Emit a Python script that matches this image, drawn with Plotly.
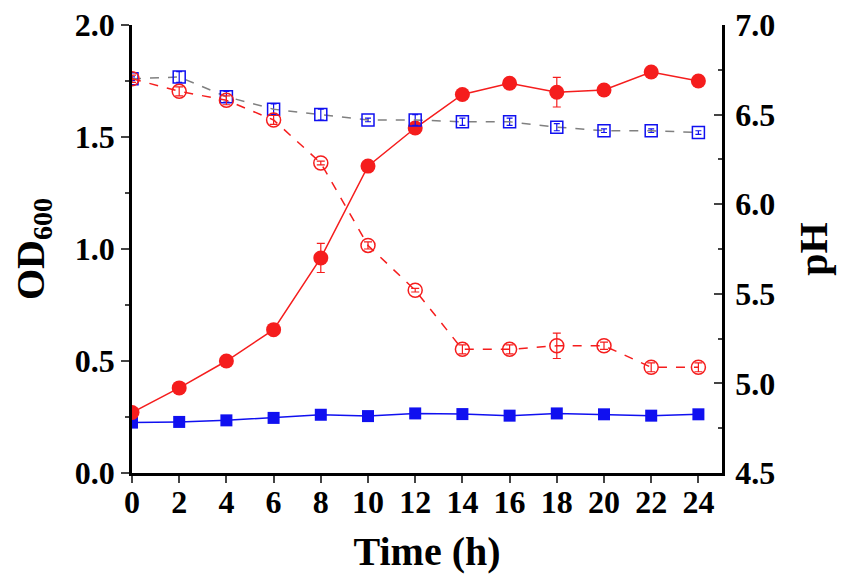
import plotly.graph_objects as go

# sampling times (h)
time_h = [0, 2, 4, 6, 8, 10, 12, 14, 16, 18, 20, 22, 24]

# OD600 values (left axis)
od_red = [0.27, 0.38, 0.50, 0.64, 0.96, 1.37, 1.54, 1.69, 1.74, 1.70, 1.71, 1.79, 1.75]
od_red_err = [0.01, 0.01, 0.01, 0.01, 0.065, 0.02, 0.02, 0.02, 0.02, 0.066, 0.02, 0.02, 0.02]
od_blue = [0.225, 0.228, 0.235, 0.246, 0.260, 0.254, 0.266, 0.263, 0.256, 0.266, 0.262, 0.256, 0.262]
od_blue_err = [0.005] * 13

# pH values (right axis)
ph_red = [6.70, 6.63, 6.58, 6.47, 6.23, 5.77, 5.52, 5.19, 5.19, 5.21, 5.21, 5.09, 5.09]
ph_red_err = [0.02, 0.025, 0.025, 0.025, 0.01, 0.02, 0.01, 0.025, 0.025, 0.071, 0.02, 0.025, 0.025]
ph_blue = [6.70, 6.71, 6.60, 6.53, 6.50, 6.47, 6.47, 6.46, 6.46, 6.43, 6.41, 6.41, 6.40]
ph_blue_err = [0.01, 0.03, 0.03, 0.03, 0.03, 0.01, 0.03, 0.02, 0.02, 0.02, 0.01, 0.01, 0.01]

RED = "#f51d1d"
BLUE = "#1010f0"
FONT = "Liberation Serif"

fig = go.Figure()

# OD traces
fig.add_trace(go.Scatter(
    x=time_h, y=od_blue, mode="lines+markers",
    line=dict(color=BLUE, width=1.5),
    marker=dict(symbol="square", size=12, color=BLUE),
    error_y=dict(array=od_blue_err, color=BLUE, thickness=1.2, width=4),
    showlegend=False,
))
fig.add_trace(go.Scatter(
    x=time_h, y=od_red, mode="lines+markers",
    line=dict(color=RED, width=1.5),
    marker=dict(symbol="circle", size=15, color=RED),
    error_y=dict(array=od_red_err, color=RED, thickness=1.2, width=4),
    showlegend=False,
))

# pH traces
fig.add_trace(go.Scatter(
    x=time_h, y=ph_blue, mode="lines+markers", yaxis="y2",
    line=dict(color="#808080", width=1.5, dash="dash"),
    marker=dict(symbol="square-open", size=12, color=BLUE, line=dict(width=1.5)),
    error_y=dict(array=ph_blue_err, color=BLUE, thickness=1.2, width=3),
    showlegend=False,
))
fig.add_trace(go.Scatter(
    x=time_h, y=ph_red, mode="lines+markers", yaxis="y2",
    line=dict(color=RED, width=1.5, dash="dash"),
    marker=dict(symbol="circle-open", size=14, color=RED, line=dict(width=1.5)),
    error_y=dict(array=ph_red_err, color=RED, thickness=1.2, width=4),
    showlegend=False,
))

tick_font = dict(family=FONT, size=32, color="black", weight="bold")
title_font = dict(family=FONT, size=40, color="black", weight="bold")

fig.update_layout(
    width=851, height=587,
    margin=dict(l=124, r=137, t=17, b=122),
    paper_bgcolor="white", plot_bgcolor="white",
    font=dict(family=FONT, color="black"),
    xaxis=dict(
        range=[0, 25], tickvals=list(range(0, 25, 2)),
        ticks="outside", ticklen=7, tickwidth=2,
        showline=True, linecolor="black", linewidth=2.5,
        showgrid=False, zeroline=False, automargin=False,
        tickfont=tick_font, ticklabelstandoff=-8,
        title=dict(text="Time (h)", font=title_font, standoff=18),
    ),
    yaxis=dict(
        range=[0, 2.0], tickvals=[0, 0.5, 1.0, 1.5, 2.0],
        ticktext=["0.0", "0.5", "1.0", "1.5", "2.0"],
        ticks="outside", ticklen=8, tickwidth=2,
        minor=dict(ticks="outside", ticklen=4, tickwidth=2, dtick=0.25, tick0=0),
        showline=True, linecolor="black", linewidth=2.5,
        showgrid=False, zeroline=False, automargin=False,
        tickfont=tick_font, ticklabeloverflow="allow",
        title=dict(text="OD<sub>600</sub>", font=title_font, standoff=56),
    ),
    yaxis2=dict(
        overlaying="y", side="right",
        range=[4.5, 7.0], tickvals=[4.5, 5.0, 5.5, 6.0, 6.5, 7.0],
        ticktext=["4.5", "5.0", "5.5", "6.0", "6.5", "7.0"],
        ticks="inside", ticklen=8, tickwidth=2,
        minor=dict(ticks="inside", ticklen=4, tickwidth=2, dtick=0.25, tick0=4.5),
        showline=True, linecolor="black", linewidth=2.5,
        showgrid=False, zeroline=False, automargin=False,
        tickfont=tick_font, ticklabelstandoff=4, ticklabeloverflow="allow",
        title=dict(text="pH", font=title_font, standoff=25),
    ),
)

fig.write_html("out.html")
